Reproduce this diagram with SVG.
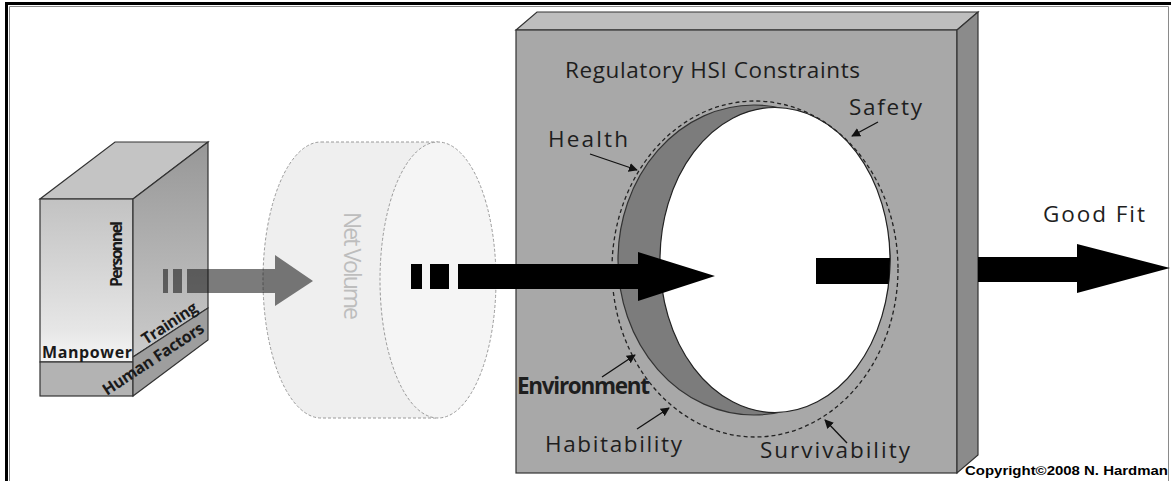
<svg xmlns="http://www.w3.org/2000/svg" width="1171" height="481" viewBox="0 0 1171 481">
<style>
.lbl{font-family:"Open Sans","Liberation Sans",sans-serif;font-size:22.5px;fill:#1e1e1e}
.bx{font-family:"Open Sans","Liberation Sans",sans-serif;font-weight:bold;font-size:16px;fill:#1a1a1a}
.ptr{stroke:#111;stroke-width:1.3;fill:none;marker-end:url(#ah)}
.edge{stroke:#333;stroke-width:1.2}
</style>
<defs>
<marker id="ah" viewBox="0 0 10 10" refX="9" refY="5" markerWidth="9" markerHeight="9" markerUnits="userSpaceOnUse" orient="auto">
<path d="M0,0 L10,5 L0,10 Z" fill="#111"/>
</marker>
<linearGradient id="gFront" x1="0" y1="0" x2="0" y2="1">
<stop offset="0" stop-color="#c2c2c2"/><stop offset="0.8" stop-color="#e6e6e6"/><stop offset="1" stop-color="#f6f6f6"/>
</linearGradient>
<linearGradient id="gSide" x1="0" y1="0" x2="0" y2="1">
<stop offset="0" stop-color="#979797"/><stop offset="1" stop-color="#cbcbcb"/>
</linearGradient>
<clipPath id="hole"><ellipse cx="775" cy="260" rx="115" ry="152.5"/></clipPath>
</defs>

<rect width="1171" height="481" fill="#fff"/>
<g id="frame">
<path d="M6.5,481 V3.5 H1171" stroke="#000" stroke-width="3" fill="none"/>
<path d="M9.5,481 V6.5 H1168.5 V481" stroke="#8a8a8a" stroke-width="1" fill="none"/>
</g>

<g id="personnel-box">
<polygon points="40,199 133,199 208,142 115,142" fill="#c4c4c4" class="edge"/>
<rect x="40" y="199" width="93" height="163" fill="url(#gFront)" class="edge"/>
<rect x="40" y="362" width="93" height="34" fill="#b3b3b3" class="edge"/>
<polygon points="133,199 208,142 208,308 133,357" fill="url(#gSide)" class="edge"/>
<polygon points="133,357 208,308 208,340 133,396" fill="#9e9e9e" class="edge"/>
<text class="bx" x="42" y="358" font-size="17" textLength="90">Manpower</text>
<text class="bx" transform="translate(122,254) rotate(-90)" text-anchor="middle" font-size="13.5" textLength="66">Personnel</text>
<text class="bx" transform="translate(146,345) rotate(-33)" textLength="63">Training</text>
<text class="bx" transform="translate(107,396) rotate(-33.4)" textLength="118">Human Factors</text>
</g>

<g id="net-volume">
<path d="M321,142 H438 V418 H321 A58,138 0 0 1 321,142 Z" fill="#efefef" stroke="#9a9a9a" stroke-width="1" stroke-dasharray="3,2"/>
<ellipse cx="438" cy="280" rx="58" ry="138" fill="#f5f5f5" stroke="#9a9a9a" stroke-width="1" stroke-dasharray="3,2"/>
<text transform="translate(344,266) rotate(90)" text-anchor="middle" font-family="Open Sans, Liberation Sans, sans-serif" font-size="23" fill="#bdbdbd" textLength="108">Net Volume</text>
</g>

<g id="hsi-panel">
<polygon points="516,30 537,12 978,12 957,30" fill="#bebebe" class="edge"/>
<rect x="516" y="30" width="441" height="443" fill="#a8a8a8" class="edge"/>
<polygon points="957,30 978,12 978,455 957,473" fill="#8b8b8b" class="edge"/>
<ellipse cx="754" cy="260" rx="136" ry="155" fill="#7c7c7c" stroke="#333" stroke-width="1.2"/>
<ellipse cx="775" cy="260" rx="115" ry="152.5" fill="#fff" stroke="#222" stroke-width="1.2"/>
<ellipse cx="755" cy="269" rx="143" ry="168" fill="none" stroke="#222" stroke-width="1.3" stroke-dasharray="4,3"/>
<text class="lbl" x="565" y="78" textLength="295">Regulatory HSI Constraints</text>
</g>

<g id="labels">
<text class="lbl" x="548" y="147" textLength="80">Health</text>
<text class="lbl" x="849" y="115" textLength="73">Safety</text>
<text class="lbl" x="517" y="394" font-weight="bold" font-size="18" textLength="133">Environment</text>
<text class="lbl" x="545" y="452" textLength="137">Habitability</text>
<text class="lbl" x="760" y="458" textLength="150">Survivability</text>
<text class="lbl" x="1043" y="222" textLength="102">Good Fit</text>
<text x="965" y="475" font-family="Liberation Sans, Arial, sans-serif" font-weight="bold" font-size="12.5" fill="#000" textLength="203" lengthAdjust="spacingAndGlyphs">Copyright©2008 N. Hardman</text>
</g>

<g id="connectors">
<g fill="#141414" fill-opacity="0.56">
<rect x="163" y="269" width="5" height="24"/>
<rect x="173" y="269" width="9" height="24"/>
<polygon points="187,269 275,269 275,255 313,281 275,306 275,293 187,293"/>
</g>
<g fill="#000">
<rect x="411" y="264" width="11" height="25"/>
<rect x="430" y="264" width="19" height="25"/>
<polygon points="458,264 638,264 638,252 715,276 638,301 638,289 458,289"/>
<rect x="816" y="258" width="80" height="26" clip-path="url(#hole)"/>
<polygon points="978,257 1077,257 1077,244 1170,268 1077,293 1077,282 978,282"/>
</g>
<line class="ptr" x1="590" y1="154" x2="637" y2="170"/>
<line class="ptr" x1="878" y1="122" x2="852" y2="136"/>
<line class="ptr" x1="602" y1="377" x2="635" y2="355"/>
<line class="ptr" x1="637" y1="429" x2="669" y2="408"/>
<line class="ptr" x1="847" y1="443" x2="825" y2="420"/>
</g>
</svg>
